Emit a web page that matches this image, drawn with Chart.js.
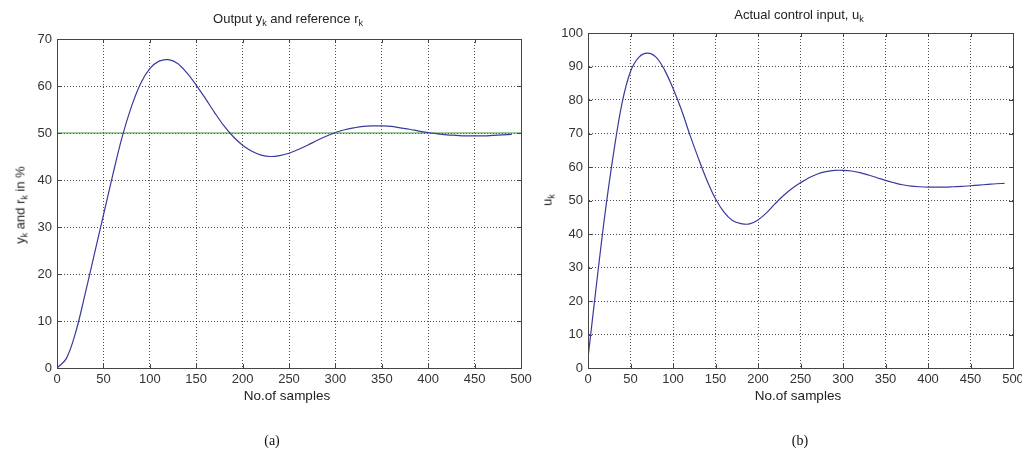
<!DOCTYPE html>
<html>
<head>
<meta charset="utf-8">
<script src="https://cdn.jsdelivr.net/npm/chart.js@4"></script>
<style>
  body { margin: 0; width: 1022px; height: 464px; background: #fff; overflow: hidden; position: relative;
         font-family: "Liberation Sans", Arial, sans-serif; color: #222; }
  .box { position: absolute; }
  .txt { position: absolute; transform: translate(-50%, -50%); white-space: nowrap; font-size: 13px; }
  .txt sub { font-size: 9px; vertical-align: -3px; }
  .rot { transform: translate(-50%, -50%) rotate(-90deg); }
  .cap { font-family: "Liberation Serif", "Times New Roman", serif; font-size: 14px; color: #111; }
</style>
</head>
<body>
<div class="box" style="left:0;top:0;width:540px;height:400px"><canvas id="chart-a"></canvas></div>
<div class="box" style="left:540px;top:0;width:500px;height:400px"><canvas id="chart-b"></canvas></div>

<div class="txt" style="left:288px;top:19px">Output y<sub>k</sub> and reference r<sub>k</sub></div>
<div class="txt rot" style="left:21px;top:205px">y<sub>k</sub> and r<sub>k</sub> in %</div>
<div class="txt" style="left:287px;top:395px;font-size:13.5px">No.of samples</div>
<div class="txt cap" style="left:272px;top:441px">(a)</div>

<div class="txt" style="left:799px;top:15px">Actual control input, u<sub>k</sub></div>
<div class="txt rot" style="left:548px;top:200px">u<sub>k</sub></div>
<div class="txt" style="left:798px;top:395px;font-size:13.5px">No.of samples</div>
<div class="txt cap" style="left:800px;top:441px">(b)</div>

<script>
// samples (every 10)
const samples = [0,10,20,30,40,50,60,70,80,90,100,110,120,130,140,150,160,170,180,190,
  200,210,220,230,240,250,260,270,280,290,300,310,320,330,340,350,360,370,380,390,
  400,410,420,430,440,450,460,470,480,490];

// output y_k in %
const outputY = [0,2,7.5,15.5,24,32.5,41,49,55.5,60.5,63.7,65.3,65.6,64.8,62.8,60.2,57.3,54.3,51.5,49.2,
  47.4,46.1,45.3,45.0,45.2,45.7,46.5,47.4,48.4,49.3,50.1,50.7,51.1,51.4,51.5,51.5,51.4,51.1,50.8,50.4,
  50.1,49.8,49.6,49.5,49.4,49.4,49.4,49.5,49.6,49.7];

// reference r_k
const refX = [0, 500];
const refY = [50, 50];

// control input u_k
const controlU = [3,25,46,64,79,88.5,92.8,94,92.8,89,83.5,77,69.5,62.5,56,50.5,46.5,44,43.1,43,
  44.2,46.3,49,51.5,53.6,55.3,56.8,57.9,58.6,59,59,58.8,58.3,57.6,56.8,56,55.3,54.7,54.3,54.1,
  54,54,54,54.1,54.2,54.4,54.6,54.8,55,55.1];

const xTicks = [0,50,100,150,200,250,300,350,400,450,500];

function pts(xs, ys) {
  return xs.map((x, i) => ({ x: x, y: ys[i] }));
}

// box round the plot with small inward ticks, matlab style
const frame = {
  id: 'frame',
  afterDraw(chart) {
    const { ctx, chartArea: a, scales } = chart;
    ctx.save();
    ctx.strokeStyle = '#444';
    ctx.lineWidth = 1;
    ctx.strokeRect(a.left + 0.5, a.top + 0.5, a.right - a.left, a.bottom - a.top);
    ctx.beginPath();
    scales.x.ticks.forEach(t => {
      const px = Math.round(scales.x.getPixelForValue(t.value)) + 0.5;
      ctx.moveTo(px, a.bottom); ctx.lineTo(px, a.bottom - 4);
      ctx.moveTo(px, a.top); ctx.lineTo(px, a.top + 4);
    });
    scales.y.ticks.forEach(t => {
      const py = Math.round(scales.y.getPixelForValue(t.value)) + 0.5;
      ctx.moveTo(a.left, py); ctx.lineTo(a.left + 4, py);
      ctx.moveTo(a.right, py); ctx.lineTo(a.right - 4, py);
    });
    ctx.stroke();
    ctx.restore();
  }
};

function makeScales(yMax, yWidth) {
  const tickFont = { family: 'Liberation Sans', size: 13 };
  const grid = { color: 'rgba(0,0,0,0.7)', drawTicks: false, lineWidth: 1 };
  const border = { color: '#444', width: 1, dash: [1, 2] };
  return {
    x: {
      type: 'linear', min: 0, max: 500,
      afterBuildTicks: s => { s.ticks = xTicks.map(v => ({ value: v })); },
      afterFit: s => { s.height = 32; },
      ticks: { font: tickFont, color: '#333', padding: 4, maxRotation: 0 },
      grid: grid, border: border
    },
    y: {
      type: 'linear', min: 0, max: yMax,
      afterFit: s => { s.width = yWidth; },
      ticks: { stepSize: 10, font: tickFont, color: '#333', padding: 5 },
      grid: grid, border: border
    }
  };
}

const common = {
  responsive: true,
  maintainAspectRatio: false,
  animation: false,
  plugins: { legend: { display: false }, title: { display: false }, tooltip: { enabled: false } },
  elements: { point: { radius: 0 }, line: { borderWidth: 1.2, tension: 0.35 } }
};

new Chart(document.getElementById('chart-a'), {
  type: 'line',
  data: {
    datasets: [
      { label: 'y_k', data: pts(samples, outputY), borderColor: '#3a3a9c' },
      { label: 'r_k', data: pts(refX, refY), borderColor: '#3d9a3d', tension: 0 }
    ]
  },
  options: Object.assign({}, common, {
    layout: { padding: { left: 0, top: 39, right: 19, bottom: 0 } },
    scales: makeScales(70, 57)
  }),
  plugins: [frame]
});

new Chart(document.getElementById('chart-b'), {
  type: 'line',
  data: {
    datasets: [
      { label: 'u_k', data: pts(samples, controlU), borderColor: '#3a3a9c' }
    ]
  },
  options: Object.assign({}, common, {
    layout: { padding: { left: 0, top: 33, right: 27, bottom: 0 } },
    scales: makeScales(100, 48)
  }),
  plugins: [frame]
});
</script>
</body>
</html>
